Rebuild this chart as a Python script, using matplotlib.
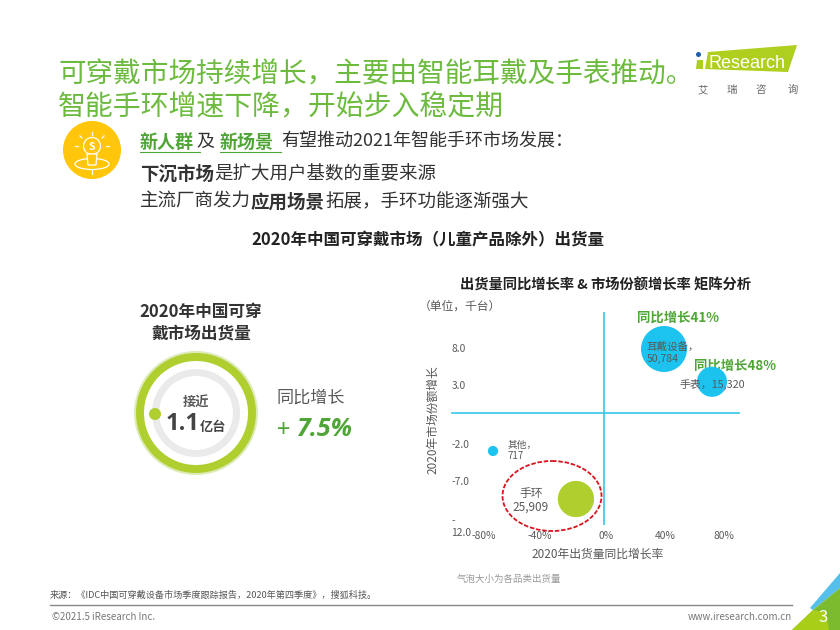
import matplotlib
matplotlib.use("Agg")
import matplotlib.pyplot as plt
from matplotlib.patches import Circle, Ellipse, Polygon

plt.rcParams['font.family'] = ['Noto Sans CJK SC', 'DejaVu Sans']

categories = ['耳戴设备', '手表', '其他', '手环']
growth_pct = [40, 72, -74, -18.7]
share_growth = [8.0, 3.9, -4.75, -10.75]
shipments = [50784, 15320, 717, 25909]
bubble_colors = ['#1CC3EF', '#1CC3EF', '#1CC3EF', '#AFCF2F']
x_tick_labels = ['-80%', '-40%', '0%', '40%', '80%']
y_tick_labels = ['8.0', '3.0', '-2.0', '-7.0', '-\n12.0']
W, H = 840, 630
GREEN = '#6DBB3E'
DGREEN = '#4FA536'
DARK = '#333333'
GREY = '#595959'

fig = plt.figure(figsize=(8.4, 6.3), dpi=100, facecolor='white')
page = fig.add_axes([0, 0, 1, 1])
page.set_xlim(0, W)
page.set_ylim(H, 0)
page.axis('off')


def T(x, y, s, size, color=DARK, ha='left', va='center_baseline', **kw):
    return page.text(x, y, s, fontsize=size, color=color, ha=ha, va=va, **kw)


# title
T(58, 71, '可穿戴市场持续增长，主要由智能耳戴及手表推动。', 19.9, GREEN)
T(58, 104, '智能手环增速下降，开始步入稳定期', 20.1, GREEN)

# logo
page.add_patch(Polygon([(708, 52), (797, 45), (788, 72), (705, 69)], fc='#AFCF1E', ec='none'))
page.add_patch(Polygon([(697, 60), (703, 60), (703, 69), (696, 69)], fc='#AFCF1E', ec='none'))
page.add_patch(Circle((698.5, 54.5), 2.5, fc='#1F5FA8', ec='none'))
T(709, 62, 'Research', 13, 'white', family='Liberation Sans')
for lx, ch in zip([703, 732, 761, 793], '艾瑞咨询'):
    T(lx, 89, ch, 7.5, '#666666', ha='center')

# yellow icon
page.add_patch(Ellipse((92, 150), 58, 58, fc='#FFC60B', ec='none'))
page.add_patch(Circle((92, 146), 8.5, fc='none', ec='white', lw=0.9))
page.add_patch(Polygon([(87, 154), (97, 154), (96, 165), (88, 165)], fc='#FFC60B', ec='white', lw=0.9, zorder=3))
page.add_patch(Ellipse((92, 164), 34, 11, fc='none', ec='white', lw=0.9, zorder=2))
for x0, y0, x1, y1 in [(92, 132, 92, 135), (80, 136, 82, 138), (104, 136, 102, 138),
                       (75, 146, 78, 146), (106, 146, 109, 146), (92, 170, 92, 174)]:
    page.plot([x0, x1], [y0, y1], color='white', lw=0.9)
T(92, 146, 'S', 7.5, 'white', ha='center', weight='bold')

# sub heading
T(140, 140, '新人群', 13, DGREEN, weight='bold')
T(196, 140, '及', 13)
T(220, 140, '新场景', 13, DGREEN, weight='bold')
T(281, 140, '有望推动2021年智能手环市场发展：', 13)
page.plot([140, 200], [152, 152], color=DGREEN, lw=0.8)
page.plot([220, 281], [152, 152], color=DGREEN, lw=0.8)
T(140, 172, '下沉市场', 13.3, weight='bold')
T(214, 172, '是扩大用户基数的重要来源', 13.3)
T(140, 200, '主流厂商发力', 13.3)
T(250, 200, '应用场景', 13.3, weight='bold')
T(325, 200, '拓展，手环功能逐渐强大', 13.3)
T(428, 238, '2020年中国可穿戴市场（儿童产品除外）出货量', 11.9, '#222222', ha='center', weight='bold')

# ring panel
T(201, 310, '2020年中国可穿', 12, ha='center', weight='bold')
T(201, 331, '戴市场出货量', 12, ha='center', weight='bold')
page.add_patch(Circle((196, 413), 62, fc='#DCEBB8', ec='none'))
page.add_patch(Circle((196, 413), 60, fc='#AFCF2F', ec='none'))
page.add_patch(Circle((196, 413), 52, fc='white', ec='none'))
page.add_patch(Circle((196, 413), 44, fc='#EAEAEA', ec='none'))
page.add_patch(Circle((196, 413), 37, fc='white', ec='none'))
page.add_patch(Circle((155, 414), 6, fc='#AFCF2F', ec='none'))
T(196, 401, '接近', 9.5, GREY, ha='center', weight='bold')
T(183, 421, '1.1', 17, '#444444', ha='center', weight='bold', family='Open Sans')
T(213, 425, '亿台', 9.5, '#444444', ha='center', weight='bold')
T(311, 396, '同比增长', 12.3, GREY, ha='center')
T(276, 428, '+', 17, DGREEN)
T(296, 427, '7.5%', 18, DGREEN, style='italic', weight='bold', family='Open Sans')

# matrix panel headings
T(605, 284, '出货量同比增长率 & 市场份额增长率 矩阵分析', 10.3, '#222222', ha='center', weight='bold')
T(460, 305, '（单位，千台）', 8.5, GREY, ha='center')
T(637, 316, '同比增长41%', 9.6, DGREEN, weight='bold')
T(694, 364, '同比增长48%', 9.6, DGREEN, weight='bold')

# scatter axes, 1.5 px per % and 8 px per unit with the origin at pixel (604, 413)
L, R, TOP, BOT = 468, 739, 312, 525
ax = fig.add_axes([L / W, 1 - BOT / H, (R - L) / W, (BOT - TOP) / H], facecolor='none')
ax.set_xlim((L - 604) / 1.5, (R - 604) / 1.5)
ax.set_ylim((413 - BOT) / 8, (413 - TOP) / 8)
for s in ax.spines.values():
    s.set_visible(False)
ax.axhline(0, xmin=-0.06, xmax=1, color='#35C6E8', lw=1.2, clip_on=False)
ax.axvline(0, color='#35C6E8', lw=1.2)
sizes = [(46 * 0.72 * (v / 50784) ** 0.353) ** 2 for v in shipments]
ax.scatter(growth_pct, share_growth, s=sizes, c=bubble_colors, linewidths=0, zorder=3, clip_on=False)
ax.set_xticks([-80, -42.7, 1.3, 40.7, 80], x_tick_labels)
ax.set_yticks([8.1, 3.5, -3.9, -8.5, -14], y_tick_labels)
ax.tick_params(length=0, labelsize=7.4, labelcolor=GREY)
ax.tick_params(axis='x', pad=4)
ax.tick_params(axis='y', pad=12)
for lab in ax.get_yticklabels():
    lab.set_ha('left')

# overlays drawn on top of bubbles
top = fig.add_axes([0, 0, 1, 1], facecolor='none')
top.set_xlim(0, W)
top.set_ylim(H, 0)
top.axis('off')
page = top
page.add_patch(Ellipse((552, 496), 99, 70, fc='none', ec='#D8141E', lw=1.3, ls=(0, (2.5, 1.0))))
T(647, 346, '耳戴设备，', 7.6, GREY)
T(647, 358, '50,784', 7.6, GREY)
T(680, 383, '手表，15,320', 7.8, GREY)
T(508, 444, '其他，', 7, GREY)
T(508, 455, '717', 7, GREY)
T(531, 492, '手环', 8.5, GREY, ha='center')
T(531, 506, '25,909', 8.5, GREY, ha='center')
T(433, 420, '2020年市场份额增长', 8.5, GREY, ha='center', va='center', rotation=90)
T(598, 553, '2020年出货量同比增长率', 8.5, GREY, ha='center')
T(509, 578, '气泡大小为各品类出货量', 6.8, '#999999', ha='center')

# footer
T(50, 594, '来源：《IDC中国可穿戴设备市场季度跟踪报告，2020年第四季度》，搜狐科技。', 6.6, '#555555')
page.plot([50, 792], [605, 605], color='#888888', lw=1)
T(52, 616, '©2021.5 iResearch Inc.', 7, '#777777')
T(792, 616, 'www.iresearch.com.cn', 7, '#777777', ha='right')
page.add_patch(Polygon([(840, 573), (810, 608), (813, 610), (840, 588)], fc='#55BFEA', ec='none'))
page.add_patch(Polygon([(813, 610), (840, 588), (840, 630), (792, 630)], fc='#7CBB2E', ec='none'))
page.add_patch(Polygon([(813, 610), (826, 612), (829, 630), (792, 630)], fc='#A9CE18', ec='none'))
T(823, 616, '3', 12, 'white', ha='center')

fig.savefig('out.png', dpi=100)
